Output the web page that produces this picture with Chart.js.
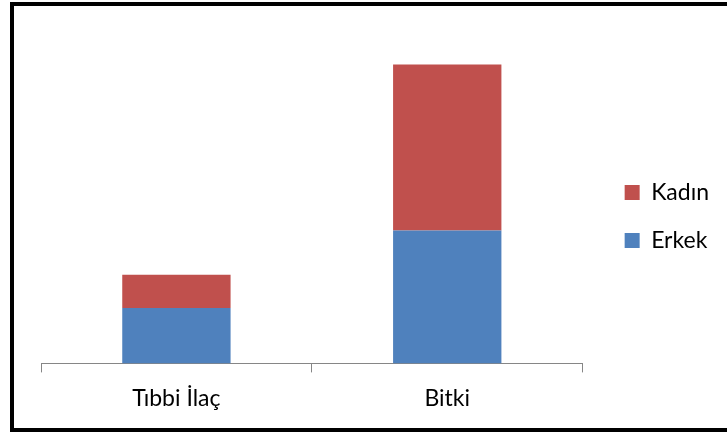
<!DOCTYPE html>
<html>
<head>
<meta charset="utf-8">
<script src="https://cdn.jsdelivr.net/npm/chart.js@4"></script>
<style>
  body { margin: 0; background: #fff; }
  #frame {
    position: absolute; left: 10px; top: 2px;
    width: 730px; height: 422px;
    border: 4px solid #000; border-right: none;
  }
  #wrap { position: absolute; left: 0; top: 0; width: 727px; height: 434px; }
</style>
</head>
<body>
<div id="frame"></div>
<div id="wrap"><canvas id="chart" width="727" height="434"></canvas></div>
<script>
const categories = ["Tıbbi İlaç", "Bitki"];
const erkek = [10, 24];
const kadin = [6, 30];

const ctx = document.getElementById("chart").getContext("2d");

new Chart(ctx, {
  type: "bar",
  data: {
    labels: categories,
    datasets: [
      { label: "Erkek", data: erkek, backgroundColor: "#4F81BD" },
      { label: "Kadın", data: kadin, backgroundColor: "#C0504D" },
    ],
  },
  options: {
    responsive: false,
    animation: false,
    layout: { padding: { left: 41, top: 9, right: 8, bottom: 10 } },
    datasets: {
      bar: { barPercentage: 0.4, categoryPercentage: 1 },
    },
    scales: {
      x: {
        stacked: true,
        grid: {
          offset: true,
          drawOnChartArea: false,
          drawTicks: true,
          tickLength: 9,
          color: "#868686",
        },
        border: { display: true, color: "#868686", width: 1 },
        ticks: {
          color: "#000",
          padding: 12,
          font: { family: "Lato", size: 23 },
        },
      },
      // hidden value axis; kept on the right only to leave a gap before the legend
      y: {
        stacked: true,
        position: "right",
        min: 0,
        max: 64,
        grid: { display: false },
        border: { display: false },
        ticks: { display: false },
        afterFit: (scale) => {
          scale.width = 17;
        },
      },
    },
    plugins: {
      legend: {
        position: "right",
        reverse: true,
        labels: {
          color: "#000",
          boxWidth: 15,
          boxHeight: 15,
          padding: 25,
          font: { family: "Lato", size: 23 },
        },
      },
      tooltip: { enabled: false },
    },
  },
});
</script>
</body>
</html>
